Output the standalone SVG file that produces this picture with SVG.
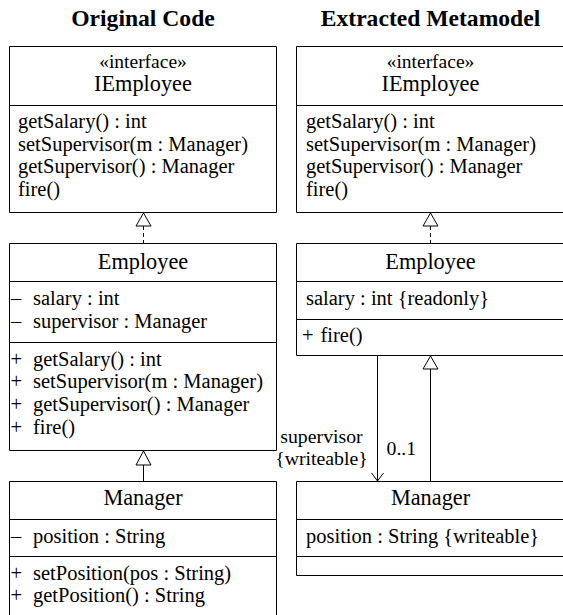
<svg xmlns="http://www.w3.org/2000/svg" width="563" height="615" viewBox="0 0 563 615" font-family="'Liberation Serif', Tinos, 'Nimbus Roman', 'Times New Roman', 'DejaVu Serif', serif">
<style>
text{font-family:'Liberation Serif', Tinos, 'Nimbus Roman', 'Times New Roman', 'DejaVu Serif', serif;fill:#000}
.box{fill:none;stroke:#000;stroke-width:1}
.t{font-size:20.5px}
.n{font-size:22.3px;text-anchor:middle}
.st{font-size:19.5px;text-anchor:middle}
.ti{font-size:23.6px;font-weight:bold;text-anchor:middle}
.lb{font-size:19.8px}
.ln{fill:none;stroke:#000;stroke-width:1}
.tri{fill:#fff;stroke:#000;stroke-width:1}
</style>
<rect width="563" height="615" fill="#fff"/>
<text class="ti" x="143" y="26">Original Code</text>
<text class="ti" x="430.5" y="26">Extracted Metamodel</text>

<g id="orig-IEmployee">
<path class="box" d="M9.5,46.5H276.5V212.5H9.5Z M9.5,105.5H276.5"/>
<text class="st" x="143" y="68">«interface»</text>
<text class="n" x="143" y="91">IEmployee</text>
<text class="t" x="18" y="128">getSalary() : int</text>
<text class="t" x="18" y="150.7">setSupervisor(m : Manager)</text>
<text class="t" x="18" y="173.4">getSupervisor() : Manager</text>
<text class="t" x="18" y="196">fire()</text>
</g>

<g id="orig-Employee">
<path class="box" d="M9.5,243.5H276.5V450.5H9.5Z M9.5,281.5H276.5 M9.5,342.5H276.5"/>
<text class="n" x="143" y="269">Employee</text>
<text class="t" x="11" y="305">–<tspan x="33">salary : int</tspan></text>
<text class="t" x="11" y="328">–<tspan x="33">supervisor : Manager</tspan></text>
<text class="t" x="10.5" y="365.7">+<tspan x="33">getSalary() : int</tspan></text>
<text class="t" x="10.5" y="388.4">+<tspan x="33">setSupervisor(m : Manager)</tspan></text>
<text class="t" x="10.5" y="411">+<tspan x="33">getSupervisor() : Manager</tspan></text>
<text class="t" x="10.5" y="433.7">+<tspan x="33">fire()</tspan></text>
</g>

<g id="orig-Manager">
<path class="box" d="M9.5,615V481.5H276.5V615 M9.5,519.5H276.5 M9.5,556.5H276.5"/>
<text class="n" x="143" y="505">Manager</text>
<text class="t" x="11" y="542.5">–<tspan x="33">position : String</tspan></text>
<text class="t" x="10.5" y="579.5">+<tspan x="33">setPosition(pos : String)</tspan></text>
<text class="t" x="10.5" y="602.2">+<tspan x="33">getPosition() : String</tspan></text>
</g>

<g id="meta-IEmployee">
<path class="box" d="M563,46.5H296.5V212.5H563 M296.5,105.5H563"/>
<text class="st" x="430.5" y="68">«interface»</text>
<text class="n" x="430.5" y="91">IEmployee</text>
<text class="t" x="306" y="128">getSalary() : int</text>
<text class="t" x="306" y="150.7">setSupervisor(m : Manager)</text>
<text class="t" x="306" y="173.4">getSupervisor() : Manager</text>
<text class="t" x="306" y="196">fire()</text>
</g>

<g id="meta-Employee">
<path class="box" d="M563,243.5H296.5V355.5H563 M296.5,281.5H563 M296.5,319.5H563"/>
<text class="n" x="430.5" y="269">Employee</text>
<text class="t" x="306" y="305">salary : int {readonly}</text>
<text class="t" x="302" y="342">+<tspan x="320.5">fire()</tspan></text>
</g>

<g id="meta-Manager">
<path class="box" d="M563,481.5H296.5V575.5H563 M296.5,519.5H563 M296.5,556.5H563"/>
<text class="n" x="430.5" y="505">Manager</text>
<text class="t" x="306" y="542.5">position : String {writeable}</text>
</g>

<g id="connectors">
<line class="ln" x1="143.5" y1="226" x2="143.5" y2="243.5" stroke-dasharray="4,3"/>
<polygon class="tri" points="143.5,213 136,226 151,226"/>
<line class="ln" x1="143.5" y1="465" x2="143.5" y2="481.5"/>
<polygon class="tri" points="143.5,451 136,465 151,465"/>
<line class="ln" x1="430.5" y1="226" x2="430.5" y2="243.5" stroke-dasharray="4,3"/>
<polygon class="tri" points="430.5,213 423,226 438,226"/>
<line class="ln" x1="430.5" y1="369" x2="430.5" y2="481.5"/>
<polygon class="tri" points="430.5,356 423,369 438,369"/>
<line class="ln" x1="377.5" y1="355.5" x2="377.5" y2="481"/>
<polyline class="ln" points="371.5,473 377.5,481 383.5,473"/>
<text class="lb" x="321.5" y="443.3" text-anchor="middle">supervisor</text>
<text class="lb" x="321.5" y="465" text-anchor="middle">{writeable}</text>
<text class="lb" x="386.5" y="455">0..1</text>
</g>
</svg>
